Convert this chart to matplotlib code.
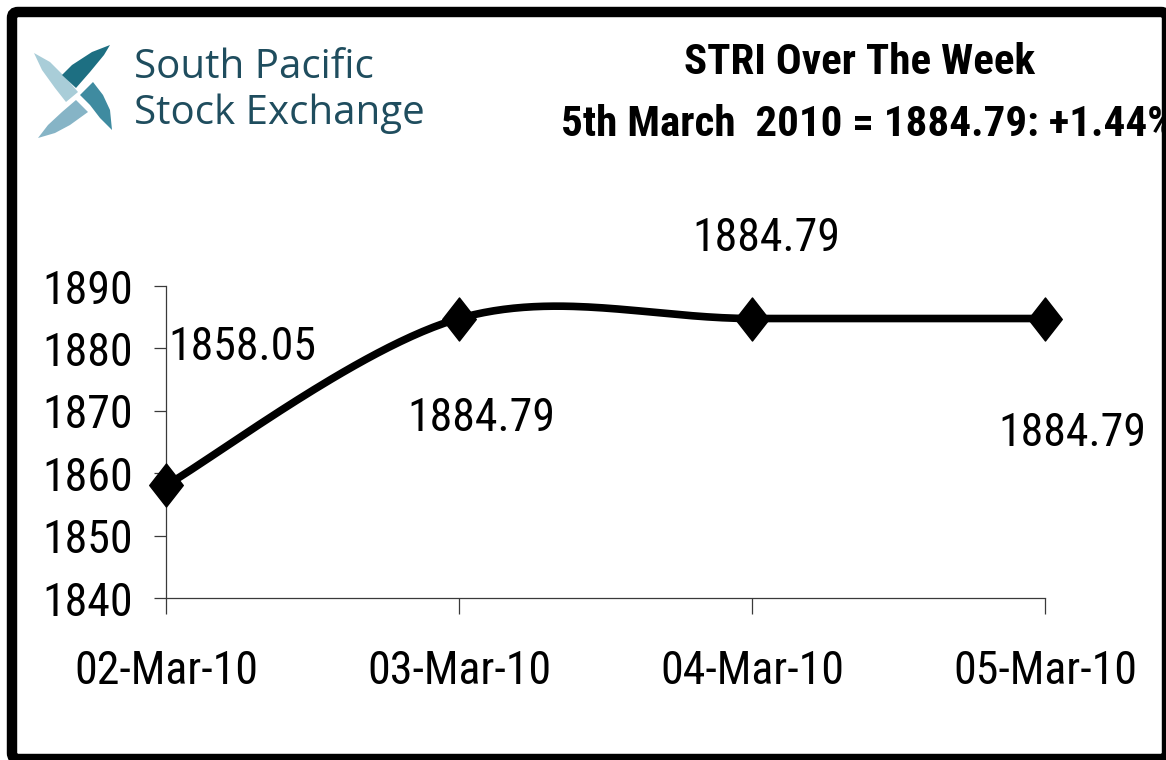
import numpy as np
import matplotlib
matplotlib.use('Agg')
import matplotlib.pyplot as plt
from matplotlib.path import Path
from matplotlib.patches import Polygon, FancyBboxPatch

# Chart data
dates = ['02-Mar-10', '03-Mar-10', '04-Mar-10', '05-Mar-10']
values = [1858.05, 1884.79, 1884.79, 1884.79]
y_ticks = [1840, 1850, 1860, 1870, 1880, 1890]
title_1 = 'STRI Over The Week'
title_2 = '5th March  2010 = 1884.79: +1.44%'
logo_lines = ['South Pacific', 'Stock Exchange']

# data label offsets in pixels (dx, dy), the way the sheet placed them
label_offsets = [(2, 138), (22, -99), (14, 81), (27, -114)]
label_align = ['left', 'center', 'center', 'center']

plt.rcParams['font.family'] = ['Roboto Condensed', 'Liberation Sans', 'DejaVu Sans']


def excel_smooth(xs, ys, n=60):
    # bezier segments with 1/6 neighbour tangents (Excel "smoothed line")
    pts = np.column_stack([xs, ys]).astype(float)
    out = []
    for i in range(len(pts) - 1):
        p0 = pts[max(i - 1, 0)]
        p1, p2 = pts[i], pts[i + 1]
        p3 = pts[min(i + 2, len(pts) - 1)]
        c1 = p1 + (p2 - p0) / 6.0
        c2 = p2 - (p3 - p1) / 6.0
        t = np.linspace(0, 1, n)[:, None]
        seg = (1 - t) ** 3 * p1 + 3 * (1 - t) ** 2 * t * c1 + 3 * (1 - t) * t ** 2 * c2 + t ** 3 * p2
        out.append(seg if i == 0 else seg[1:])
    return np.vstack(out)


W, H = 1166, 760
fig = plt.figure(figsize=(W / 100, H / 100), dpi=100)
fig.patch.set_facecolor('white')

# main plot area
ax = fig.add_axes([166 / W, (H - 598) / H, (1045 - 166) / W, (598 - 286) / H], zorder=1)
ax.patch.set_alpha(0)
x = np.arange(len(values))
curve = excel_smooth(x, values)
ax.plot(curve[:, 0], curve[:, 1], color='black', lw=5.5, solid_capstyle='round', clip_on=False)
diamond = Path([(0, 1), (0.78, 0), (0, -1), (-0.78, 0), (0, 1)],
               [Path.MOVETO, Path.LINETO, Path.LINETO, Path.LINETO, Path.CLOSEPOLY])
ax.plot(x, values, ls='none', marker=diamond, ms=31, color='black', clip_on=False, zorder=3)

for xi, v, (dx, dy), ha in zip(x, values, label_offsets, label_align):
    ax.annotate(f'{v:.2f}', (xi, v), xytext=(dx, dy), textcoords='offset pixels',
                ha=ha, va='center', fontsize=33, color='black')

ax.set_xlim(0, len(values) - 1)
ax.set_ylim(y_ticks[0], y_ticks[-1])
ax.set_xticks(x)
ax.set_xticklabels(dates)
ax.set_yticks(y_ticks)
for s in ['top', 'right']:
    ax.spines[s].set_visible(False)
for s in ['left', 'bottom']:
    ax.spines[s].set_color('#3a3a3a')
    ax.spines[s].set_linewidth(0.9)
ax.tick_params(axis='y', length=9, width=0.9, color='#3a3a3a', pad=15, labelsize=33)
ax.tick_params(axis='x', length=11.5, width=0.9, color='#3a3a3a', pad=25, labelsize=33)

# overlay in pixel coordinates: logo, title and frame
ov = fig.add_axes([0, 0, 1, 1], zorder=5)
ov.set_xlim(0, W)
ov.set_ylim(H, 0)
ov.axis('off')

blades = [
    ([(34, 53), (50, 62), (66, 78), (78, 92), (66, 102), (55, 88), (42, 70)], '#a9cdd8'),
    ([(110, 45), (92, 52), (72, 65), (62, 75), (76, 88), (90, 72), (104, 55)], '#1d6f82'),
    ([(80, 95), (93, 82), (103, 95), (110, 110), (112, 130), (100, 118), (90, 105)], '#3f8ba0'),
    ([(38, 138), (48, 125), (62, 112), (76, 100), (88, 112), (70, 125), (55, 133)], '#86b4c6'),
]
for pts, col in blades:
    ov.add_patch(Polygon(pts, closed=True, facecolor=col, edgecolor='none'))
logo_font = ['Open Sans', 'DejaVu Sans']
ov.text(134, 68, logo_lines[0], fontsize=29, color='#1f4d5e', family=logo_font, ha='left', va='center')
ov.text(134, 114, logo_lines[1], fontsize=29, color='#1f4d5e', family=logo_font, ha='left', va='center')

ov.text(860, 62, title_1, fontsize=31, fontweight='bold', ha='center', va='center')
ov.text(561, 125, title_2, fontsize=31, fontweight='bold', ha='left', va='center')

frame = FancyBboxPatch((12, 12), 1155, 747, boxstyle='round,pad=0,rounding_size=6',
                       facecolor='none', edgecolor='black', linewidth=7.5, zorder=10)
ov.add_patch(frame)

fig.savefig('out.png', dpi=100, facecolor='white')
